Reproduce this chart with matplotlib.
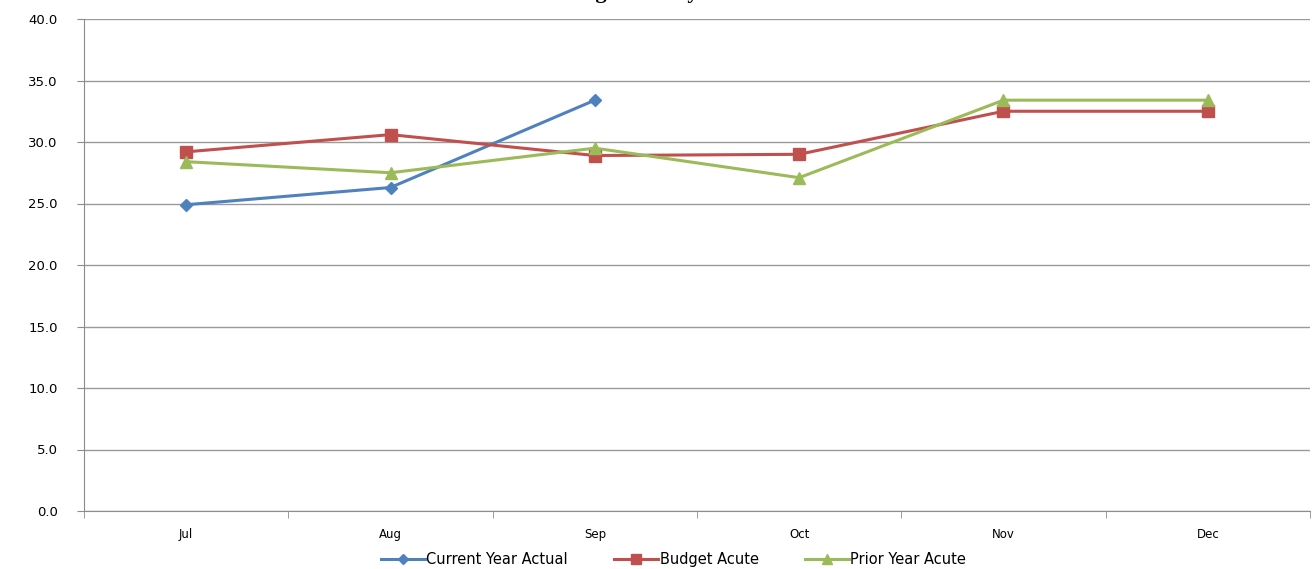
import matplotlib.pyplot as plt
import numpy as np

months = ['Jul', 'Aug', 'Sep', 'Oct', 'Nov', 'Dec']
current_actual = [24.9, 26.3, 33.4]
budget_acute = [29.2, 30.6, 28.9, 29.0, 32.5, 32.5]
prior_acute = [28.4, 27.5, 29.5, 27.1, 33.4, 33.4]

fig = plt.figure(figsize=(13.13, 5.69), dpi=100)
ax = fig.add_axes([84 / 1313, 58 / 569, 1226 / 1313, 492 / 569])

x = np.arange(len(months))
ax.plot(x[:len(current_actual)], current_actual, color='#4F81BD', lw=2.2,
        marker='D', ms=6, label='Current Year Actual')
ax.plot(x, budget_acute, color='#C0504D', lw=2.2,
        marker='s', ms=8, label='Budget Acute')
ax.plot(x, prior_acute, color='#9BBB59', lw=2.2,
        marker='^', ms=8, label='Prior Year Acute')

ax.set_xlim(-0.5, len(months) - 0.5)
ax.set_ylim(0, 40)
ax.set_yticks(np.arange(0, 40.1, 5))
ax.set_yticklabels([f'{v:.1f}' for v in np.arange(0, 40.1, 5)], fontsize=9.5)
ax.yaxis.grid(True, color='#9a9a9a', lw=1)
ax.set_axisbelow(True)

# category labels centred, tick marks on the bin edges
ax.set_xticks(x)
ax.set_xticklabels(months, fontsize=8.5)
ax.tick_params(axis='x', which='major', length=0, pad=12)
ax.set_xticks(np.arange(-0.5, len(months)), minor=True)
ax.tick_params(axis='x', which='minor', length=5, color='#8c8c8c', direction='out')
ax.tick_params(axis='y', length=5, color='#8c8c8c', pad=14)

for side in ['top', 'right']:
    ax.spines[side].set_visible(False)
for side in ['left', 'bottom']:
    ax.spines[side].set_color('#8c8c8c')

fig.text(0.455, 1.003, 'Acute Length of Stay', ha='center', va='baseline',
         fontsize=16, fontweight='bold', family='Liberation Serif')

fig.legend(loc='lower center', bbox_to_anchor=(0.513, -0.02), ncol=3,
           frameon=False, fontsize=10.5, handlelength=3, handletextpad=0.1,
           columnspacing=3.2, markerscale=0.9)

fig.savefig('out.png', dpi=100)
